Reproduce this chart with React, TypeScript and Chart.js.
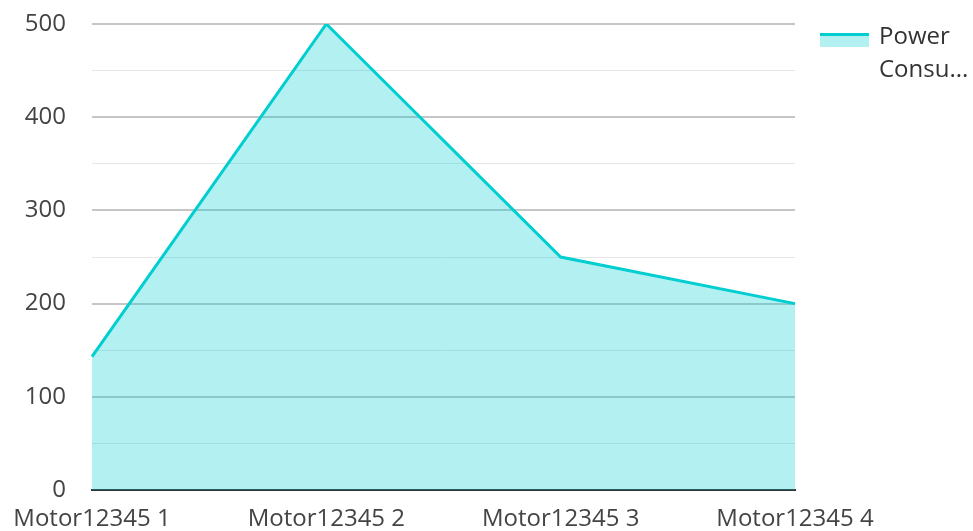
import React, { useEffect, useRef } from "react";
import { Chart, registerables } from "chart.js";

Chart.register(...registerables);

const categories = ["Motor12345 1", "Motor12345 2", "Motor12345 3", "Motor12345 4"];
const powerValues = [143, 500, 250, 200];
const seriesName = "Power Consumption";
const legendLines = ["Power", "Consu..."];

const LINE = "#00ced1";
const FILL = "rgba(0,206,209,0.3)";
const FONT = "'Open Sans', 'Noto Sans', sans-serif";

const legendPlugin = {
  id: "customLegend",
  afterDraw(chart: any) {
    const ctx = chart.ctx;
    const x0 = 820;
    const y0 = 33;
    ctx.save();
    ctx.fillStyle = FILL;
    ctx.fillRect(x0, y0, 49, 14);
    ctx.fillStyle = LINE;
    ctx.fillRect(x0, y0, 49, 3);
    ctx.fillStyle = "#333333";
    ctx.font = `24px ${FONT}`;
    ctx.textBaseline = "middle";
    ctx.textAlign = "left";
    legendLines.forEach((t, i) => ctx.fillText(t, 879, 37 + i * 33));
    ctx.restore();
  },
};

export default function App() {
  const ref = useRef<HTMLCanvasElement | null>(null);
  useEffect(() => {
    document.body.style.margin = "0";
    const chart = new Chart(ref.current as HTMLCanvasElement, {
      type: "line",
      data: {
        labels: categories,
        datasets: [
          {
            label: seriesName,
            data: powerValues,
            borderColor: LINE,
            backgroundColor: FILL,
            borderWidth: 3,
            fill: "origin",
            pointRadius: 0,
            tension: 0,
          },
        ],
      },
      options: {
        animation: false,
        responsive: false,
        maintainAspectRatio: false,
        layout: { padding: { top: 24, right: 178, left: 0, bottom: 0 } },
        plugins: { legend: { display: false }, tooltip: { enabled: false } },
        scales: {
          x: {
            offset: false,
            grid: { display: false, drawTicks: false },
            border: { display: true, color: "#333333", width: 2 },
            ticks: {
              color: "#444444",
              font: { family: FONT, size: 24 },
              padding: 15,
              maxRotation: 0,
              autoSkip: false,
            },
            afterFit: (s: any) => {
              s.height = 41;
              s.paddingLeft = 0;
              s.paddingRight = 0;
            },
          },
          y: {
            min: 0,
            max: 500,
            border: { display: false },
            grid: {
              drawTicks: false,
              color: (c: any) => (c.tick && c.tick.value % 100 === 0 ? "#c6c6c6" : "#e6e6e6"),
              lineWidth: (c: any) => (c.tick && c.tick.value % 100 === 0 ? 2 : 1),
            },
            ticks: {
              stepSize: 50,
              color: "#444444",
              font: { family: FONT, size: 24 },
              padding: 26,
              callback: (v: any) => (Number(v) % 100 === 0 ? String(v) : ""),
            },
            afterFit: (s: any) => {
              s.width = 92;
              s.paddingTop = 0;
              s.paddingBottom = 0;
            },
          },
        },
      },
      plugins: [legendPlugin],
    });
    return () => chart.destroy();
  }, []);
  return (
    <div style={{ position: "absolute", left: 0, top: 0, width: 973, height: 531 }}>
      <canvas ref={ref} width={973} height={531} style={{ width: 973, height: 531 }} />
    </div>
  );
}
